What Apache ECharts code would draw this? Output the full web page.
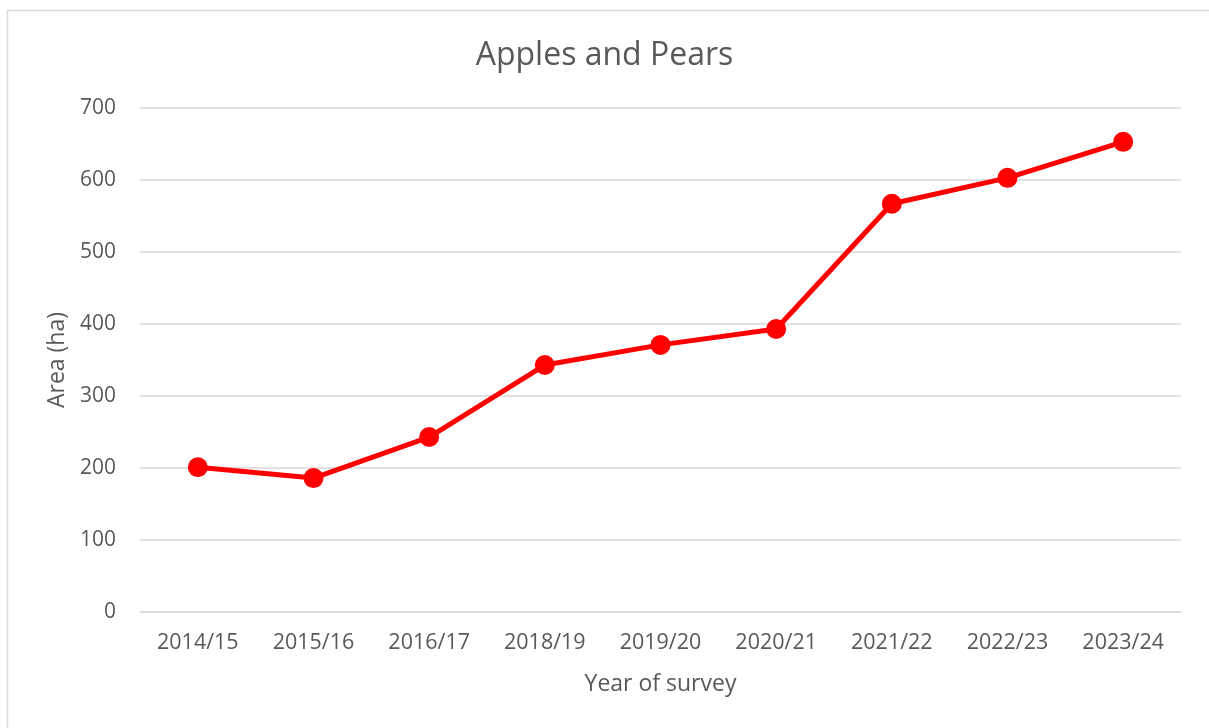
<!DOCTYPE html>
<html>
<head>
<meta charset="utf-8">
<script src="https://cdn.jsdelivr.net/npm/echarts@6/dist/echarts.min.js"></script>
<style>
  html, body { margin: 0; padding: 0; background: #ffffff; }
  #chart { width: 1209px; height: 728px; }
</style>
</head>
<body>
<div id="chart"></div>
<script>
// Survey years and planted area (ha) for apples and pears
const years = ['2014/15', '2015/16', '2016/17', '2018/19', '2019/20', '2020/21', '2021/22', '2022/23', '2023/24'];
const areaHa = [201, 186, 243, 343, 371, 393, 567, 603, 653];
const yTicks = { min: 0, max: 700, interval: 100 };

const FONT = '"Open Sans", "Noto Sans", sans-serif';
const TEXT = '#595959';
const GRID = '#d9d9d9';

const chart = echarts.init(document.getElementById('chart'), null, { renderer: 'canvas' });

chart.setOption({
  backgroundColor: '#ffffff',
  animation: false,
  title: {
    text: 'Apples and Pears',
    left: 'center',
    top: 35,
    textStyle: { fontFamily: FONT, fontSize: 32, fontWeight: 'normal', color: TEXT }
  },
  graphic: [{
    type: 'rect',
    shape: { x: 7.5, y: 10.5, width: 1400, height: 1000 },
    style: { fill: 'none', stroke: GRID, lineWidth: 1.5 },
    silent: true
  }],
  grid: { left: 140, right: 28, top: 108, bottom: 116 },
  xAxis: {
    type: 'category',
    data: years,
    boundaryGap: true,
    axisLine: { show: true, lineStyle: { color: GRID, width: 1.5 } },
    axisTick: { show: false },
    axisLabel: { fontFamily: FONT, fontSize: 21.5, color: TEXT, margin: 20 },
    name: 'Year of survey',
    nameLocation: 'middle',
    nameGap: 61,
    nameTextStyle: { fontFamily: FONT, fontSize: 23, color: TEXT }
  },
  yAxis: {
    type: 'value',
    min: yTicks.min,
    max: yTicks.max,
    interval: yTicks.interval,
    axisLine: { show: false },
    axisTick: { show: false },
    splitLine: { show: true, lineStyle: { color: GRID, width: 1.5 } },
    axisLabel: { fontFamily: FONT, fontSize: 21, color: TEXT, margin: 24 },
    name: 'Area (ha)',
    nameLocation: 'middle',
    nameGap: 66,
    nameRotate: 90,
    nameTextStyle: { fontFamily: FONT, fontSize: 23, color: TEXT }
  },
  series: [{
    type: 'line',
    data: areaHa,
    symbol: 'circle',
    symbolSize: 20,
    lineStyle: { color: '#ff0000', width: 5 },
    itemStyle: { color: '#ff0000' },
    z: 3
  }]
});
</script>
</body>
</html>
